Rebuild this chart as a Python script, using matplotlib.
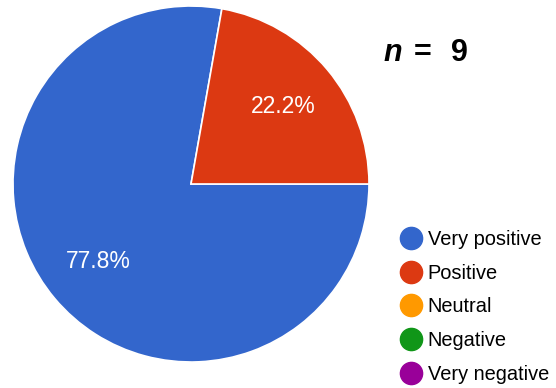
import matplotlib
matplotlib.use("Agg")
import matplotlib.pyplot as plt
from matplotlib.lines import Line2D

categories = ["Very positive", "Positive", "Neutral", "Negative", "Very negative"]
counts = [7, 2, 0, 0, 0]
colors = ["#3366CC", "#DC3912", "#FF9900", "#109618", "#990099"]
n_total = 9

plt.rcParams["font.family"] = ["Liberation Sans", "DejaVu Sans"]

W, H = 556, 388
fig = plt.figure(figsize=(W / 100, H / 100), dpi=100)
ax = fig.add_axes([0, 0, 1, 1])

# only non-zero slices are drawn; the legend lists every category
vals = [v for v in counts if v > 0]
cols = [c for v, c in zip(counts, colors) if v > 0]
wedges, texts, autotexts = ax.pie(
    vals, colors=cols, startangle=0, counterclock=False,
    center=(191, H - 184), radius=178, frame=True,
    autopct=lambda p: f"{p:.1f}%", pctdistance=0.68,
    wedgeprops=dict(edgecolor="white", linewidth=1.2),
    textprops=dict(color="white", fontsize=16.5),
)
ax.set_xlim(0, W)
ax.set_ylim(0, H)
ax.set_aspect("equal")
ax.axis("off")

handles = [Line2D([], [], marker="o", linestyle="none", markersize=16,
                  markerfacecolor=c, markeredgecolor=c) for c in colors]
ax.legend(handles, categories, loc="upper left",
          bbox_to_anchor=(391 / W, 1 - 222 / H), frameon=False,
          fontsize=14.4, handletextpad=0.28, labelspacing=0.735,
          borderaxespad=0, handlelength=1.15)

base = H - 61
ax.text(383, base, "n", fontsize=22, fontweight="bold", fontstyle="italic",
        ha="left", va="baseline")
ax.text(414, base, "=", fontsize=22, fontweight="bold",
        ha="left", va="baseline")
ax.text(451, base, f"{n_total}", fontsize=22, fontweight="bold",
        ha="left", va="baseline")

fig.savefig("out.png", dpi=100)
